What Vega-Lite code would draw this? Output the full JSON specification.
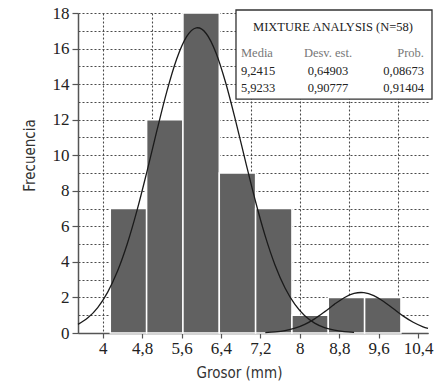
{
  "$schema": "https://vega.github.io/schema/vega-lite/v6.json",
  "width": 350,
  "height": 320,
  "autosize": {"type": "none"},
  "padding": {"left": 78, "top": 13, "right": 17, "bottom": 55},
  "background": "white",
  "config": {
    "view": {"stroke": null},
    "axis": {
      "labelFont": "Liberation Serif",
      "labelFontSize": 17,
      "labelColor": "#222",
      "titleFont": "DejaVu Sans Condensed",
      "titleFontSize": 15,
      "titleFontWeight": "normal",
      "titleColor": "#333",
      "domainColor": "#555",
      "domainWidth": 1.5,
      "tickColor": "#555",
      "tickWidth": 1.2,
      "gridColor": "#4a4a4a",
      "gridDash": [2, 2],
      "gridWidth": 1.1
    }
  },
  "resolve": {"axis": {"x": "independent", "y": "independent"}},
  "datasets": {
    "barras": [
      {"inicio": 4.155, "fin": 4.892, "frecuencia": 7},
      {"inicio": 4.892, "fin": 5.629, "frecuencia": 12},
      {"inicio": 5.629, "fin": 6.366, "frecuencia": 18},
      {"inicio": 6.366, "fin": 7.103, "frecuencia": 9},
      {"inicio": 7.103, "fin": 7.84, "frecuencia": 7},
      {"inicio": 7.84, "fin": 8.577, "frecuencia": 1},
      {"inicio": 8.577, "fin": 9.314, "frecuencia": 2},
      {"inicio": 9.314, "fin": 10.051, "frecuencia": 2}
    ],
    "curva1": [
      {"x": 3.5, "f": 0.487}, {"x": 3.7, "f": 0.855}, {"x": 3.9, "f": 1.432},
      {"x": 4.1, "f": 2.284}, {"x": 4.3, "f": 3.47}, {"x": 4.5, "f": 5.023},
      {"x": 4.7, "f": 6.925}, {"x": 4.9, "f": 9.095}, {"x": 5.1, "f": 11.38},
      {"x": 5.3, "f": 13.564}, {"x": 5.5, "f": 15.401}, {"x": 5.7, "f": 16.658},
      {"x": 5.9, "f": 17.164}, {"x": 5.9233, "f": 17.17}, {"x": 6.1, "f": 16.848},
      {"x": 6.3, "f": 15.753}, {"x": 6.5, "f": 14.033}, {"x": 6.7, "f": 11.907},
      {"x": 6.9, "f": 9.625}, {"x": 7.1, "f": 7.411}, {"x": 7.3, "f": 5.437},
      {"x": 7.5, "f": 3.799}, {"x": 7.7, "f": 2.529}, {"x": 7.9, "f": 1.604},
      {"x": 8.1, "f": 0.969}, {"x": 8.3, "f": 0.558}, {"x": 8.5, "f": 0.306},
      {"x": 8.7, "f": 0.16}, {"x": 8.9, "f": 0.08}, {"x": 9.1, "f": 0.038}
    ],
    "curva2": [
      {"x": 7.3, "f": 0.026}, {"x": 7.5, "f": 0.062}, {"x": 7.7, "f": 0.136},
      {"x": 7.9, "f": 0.269}, {"x": 8.1, "f": 0.485}, {"x": 8.3, "f": 0.796},
      {"x": 8.5, "f": 1.187}, {"x": 8.7, "f": 1.609}, {"x": 8.9, "f": 1.984},
      {"x": 9.1, "f": 2.226}, {"x": 9.2415, "f": 2.279}, {"x": 9.3, "f": 2.27},
      {"x": 9.5, "f": 2.105}, {"x": 9.7, "f": 1.776}, {"x": 9.9, "f": 1.362},
      {"x": 10.1, "f": 0.95}, {"x": 10.3, "f": 0.603}, {"x": 10.5, "f": 0.348},
      {"x": 10.6, "f": 0.255}
    ]
  },
  "layer": [
    {
      "data": {"name": "barras"},
      "mark": {"type": "rect", "color": "#616161", "stroke": "white", "strokeWidth": 1.5},
      "encoding": {
        "x": {
          "field": "inicio", "type": "quantitative",
          "scale": {"domain": [3.5, 10.6], "nice": false, "zero": false},
          "axis": {
            "title": "Grosor (mm)",
            "titleX": 161,
            "titlePadding": 9,
            "values": [4, 4.8, 5, 5.6, 6, 6.4, 7, 7.2, 8, 8.8, 9, 9.6, 10, 10.4],
            "grid": true,
            "labelOverlap": false,
            "labelFlush": false,
            "labelBound": false,
            "gridOpacity": {"condition": {"test": "abs(datum.value - round(datum.value)) < 0.001", "value": 1}, "value": 0},
            "tickOpacity": {"condition": {"test": "abs(datum.value / 0.8 - round(datum.value / 0.8)) < 0.001", "value": 1}, "value": 0},
            "labelExpr": "abs(datum.value / 0.8 - round(datum.value / 0.8)) < 0.001 ? replace(format(datum.value, '.1~f'), '.', ',') : ''",
            "tickSize": 5,
            "labelPadding": 2
          }
        },
        "x2": {"field": "fin"},
        "y": {
          "field": "frecuencia", "type": "quantitative",
          "scale": {"domain": [0, 18], "nice": false},
          "axis": {
            "title": "Frecuencia",
            "titleY": 142,
            "titlePadding": 15,
            "values": [0, 1, 2, 3, 4, 5, 6, 7, 8, 9, 10, 11, 12, 13, 14, 15, 16, 17, 18],
            "grid": true,
            "labelOverlap": false,
            "labelFlush": false,
            "labelBound": false,
            "tickOpacity": {"condition": {"test": "datum.value % 2 == 0", "value": 1}, "value": 0},
            "labelExpr": "datum.value % 2 == 0 ? datum.label : ''",
            "tickSize": 6,
            "labelPadding": 3
          }
        },
        "y2": {"datum": 0}
      }
    },
    {
      "data": {"name": "curva1"},
      "mark": {"type": "line", "color": "#1a1a1a", "strokeWidth": 1.3, "interpolate": "monotone"},
      "encoding": {
        "x": {"field": "x", "type": "quantitative", "axis": null},
        "y": {"field": "f", "type": "quantitative", "axis": null}
      }
    },
    {
      "data": {"name": "curva2"},
      "mark": {"type": "line", "color": "#1a1a1a", "strokeWidth": 1.3, "interpolate": "monotone"},
      "encoding": {
        "x": {"field": "x", "type": "quantitative", "axis": null},
        "y": {"field": "f", "type": "quantitative", "axis": null}
      }
    },
    {
      "data": {"values": [{"cuadro": "MIXTURE ANALYSIS"}]},
      "mark": {"type": "rect", "fill": "white", "stroke": "#333", "strokeWidth": 1.3},
      "encoding": {
        "x": {"datum": 6.705, "type": "quantitative", "axis": null},
        "x2": {"datum": 10.681},
        "y": {"datum": 18.17, "type": "quantitative", "axis": null},
        "y2": {"datum": 13.16}
      }
    },
    {
      "data": {"values": [{"t": "MIXTURE ANALYSIS (N=58)"}]},
      "mark": {"type": "text", "font": "Liberation Serif", "fontSize": 12.5, "color": "#222", "align": "center", "baseline": "middle"},
      "encoding": {"x": {"datum": 8.673, "type": "quantitative", "axis": null}, "y": {"datum": 17.21, "type": "quantitative", "axis": null}, "text": {"field": "t"}}
    },
    {
      "data": {"values": [{"t": "Media"}]},
      "mark": {"type": "text", "font": "Liberation Serif", "fontSize": 12.5, "color": "#777", "align": "left", "baseline": "middle"},
      "encoding": {"x": {"datum": 6.806, "type": "quantitative", "axis": null}, "y": {"datum": 15.75, "type": "quantitative", "axis": null}, "text": {"field": "t"}}
    },
    {
      "data": {"values": [{"t": "Desv. est."}]},
      "mark": {"type": "text", "font": "Liberation Serif", "fontSize": 12.5, "color": "#777", "align": "center", "baseline": "middle"},
      "encoding": {"x": {"datum": 8.571, "type": "quantitative", "axis": null}, "y": {"datum": 15.75, "type": "quantitative", "axis": null}, "text": {"field": "t"}}
    },
    {
      "data": {"values": [{"t": "Prob."}]},
      "mark": {"type": "text", "font": "Liberation Serif", "fontSize": 12.5, "color": "#777", "align": "right", "baseline": "middle"},
      "encoding": {"x": {"datum": 10.518, "type": "quantitative", "axis": null}, "y": {"datum": 15.75, "type": "quantitative", "axis": null}, "text": {"field": "t"}}
    },
    {
      "data": {"values": [{"t": "9,2415"}]},
      "mark": {"type": "text", "font": "Liberation Serif", "fontSize": 12.5, "color": "#222", "align": "left", "baseline": "middle"},
      "encoding": {"x": {"datum": 6.806, "type": "quantitative", "axis": null}, "y": {"datum": 14.74, "type": "quantitative", "axis": null}, "text": {"field": "t"}}
    },
    {
      "data": {"values": [{"t": "0,64903"}]},
      "mark": {"type": "text", "font": "Liberation Serif", "fontSize": 12.5, "color": "#222", "align": "center", "baseline": "middle"},
      "encoding": {"x": {"datum": 8.571, "type": "quantitative", "axis": null}, "y": {"datum": 14.74, "type": "quantitative", "axis": null}, "text": {"field": "t"}}
    },
    {
      "data": {"values": [{"t": "0,08673"}]},
      "mark": {"type": "text", "font": "Liberation Serif", "fontSize": 12.5, "color": "#222", "align": "right", "baseline": "middle"},
      "encoding": {"x": {"datum": 10.518, "type": "quantitative", "axis": null}, "y": {"datum": 14.74, "type": "quantitative", "axis": null}, "text": {"field": "t"}}
    },
    {
      "data": {"values": [{"t": "5,9233"}]},
      "mark": {"type": "text", "font": "Liberation Serif", "fontSize": 12.5, "color": "#222", "align": "left", "baseline": "middle"},
      "encoding": {"x": {"datum": 6.806, "type": "quantitative", "axis": null}, "y": {"datum": 13.78, "type": "quantitative", "axis": null}, "text": {"field": "t"}}
    },
    {
      "data": {"values": [{"t": "0,90777"}]},
      "mark": {"type": "text", "font": "Liberation Serif", "fontSize": 12.5, "color": "#222", "align": "center", "baseline": "middle"},
      "encoding": {"x": {"datum": 8.571, "type": "quantitative", "axis": null}, "y": {"datum": 13.78, "type": "quantitative", "axis": null}, "text": {"field": "t"}}
    },
    {
      "data": {"values": [{"t": "0,91404"}]},
      "mark": {"type": "text", "font": "Liberation Serif", "fontSize": 12.5, "color": "#222", "align": "right", "baseline": "middle"},
      "encoding": {"x": {"datum": 10.518, "type": "quantitative", "axis": null}, "y": {"datum": 13.78, "type": "quantitative", "axis": null}, "text": {"field": "t"}}
    }
  ]
}
